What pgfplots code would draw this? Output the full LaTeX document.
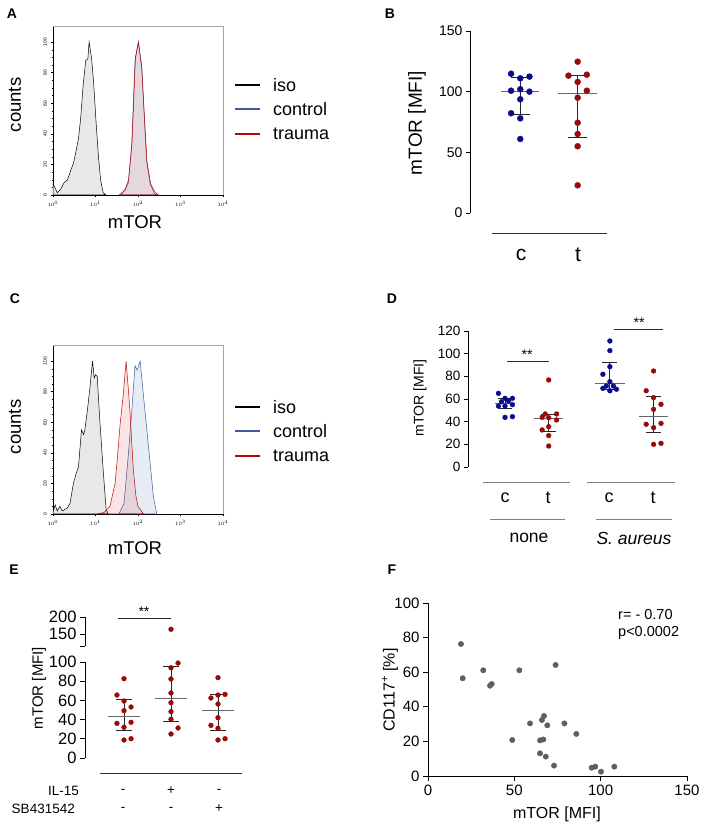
\documentclass[border=0pt]{standalone}
\usepackage{fontspec}
\setmainfont{Liberation Sans}
\usepackage{pgfplots}
\pgfplotsset{compat=1.18}

\definecolor{dotblue}{HTML}{0B0B8E}
\definecolor{dotred}{HTML}{9A0A0A}
\definecolor{lnblue}{HTML}{3B5B9B}
\definecolor{lnred}{HTML}{C40000}
\definecolor{dotgray}{HTML}{5E5E5E}
\definecolor{grp}{HTML}{808080}
\definecolor{fgray}{HTML}{E8E8E8}

\newcommand\fs[1]{\fontsize{#1}{#1}\selectfont}

% median line plus whiskers: x, median, lower, upper, half width median, half width cap
\newcommand\summ[6]{%
  \pgfmathsetmacro\xa{#1-#5}\pgfmathsetmacro\xb{#1+#5}%
  \pgfmathsetmacro\xc{#1-#6}\pgfmathsetmacro\xd{#1+#6}%
  \edef\next{%
    \noexpand\addplot[errline] coordinates {(#1,#3) (#1,#4)};
    \noexpand\addplot[errline] coordinates {(\xc,#3) (\xd,#3)};
    \noexpand\addplot[errline] coordinates {(\xc,#4) (\xd,#4)};
    \noexpand\addplot[medline] coordinates {(\xa,#2) (\xb,#2)};}%
  \next}

\pgfplotsset{
  every axis/.append style={scale only axis, anchor=south west, clip=false,
    /pgf/number format/assume math mode=true},
  hist/.style={width=170pt, height=169pt, xmin=0, xmax=4, ymin=0, ymax=110.5,
    axis x line*=bottom, axis y line*=left, tick align=outside,
    axis line style={line width=0.6pt},
    xtick={0,1,2,3,4},
    xticklabels={$10^{0}$,$10^{1}$,$10^{2}$,$10^{3}$,$10^{4}$},
    minor xtick={0.301,0.477,0.602,0.699,0.778,0.845,0.903,0.954,
      1.301,1.477,1.602,1.699,1.778,1.845,1.903,1.954,
      2.301,2.477,2.602,2.699,2.778,2.845,2.903,2.954,
      3.301,3.477,3.602,3.699,3.778,3.845,3.903,3.954},
    ytick={0,20,...,100}, minor y tick num=3,
    major tick length=2.5pt, minor tick length=1.2pt,
    tick style={line width=0.4pt, black},
    yticklabel style={rotate=90, anchor=south, font=\fs{5}},
    xticklabel style={font=\fs{5.5}}},
  dotax/.style={axis x line=none, axis y line*=left, tick align=outside,
    major tick length=4pt, tick style={black, line width=0.6pt},
    axis line style={line width=0.6pt}},
  medline/.style={black!60, line width=0.9pt},
  errline/.style={black!85, line width=0.9pt},
}

\begin{document}
\begin{tikzpicture}
\path[use as bounding box] (0pt,0pt) rectangle (703pt,828pt);

% ---------------- A ----------------
\begin{axis}[hist, at={(53pt,633pt)}]
\addplot[draw=black, fill=fgray, line width=0.5pt] coordinates {
(0,7.6)(0.1,1.5)(0.18,3.7)(0.26,8)(0.34,9.8)(0.42,16.3)(0.48,20.7)(0.54,28.3)
(0.6,37)(0.65,50)(0.71,72)(0.77,88)(0.82,89)(0.85,100)(0.91,89)(0.96,72)
(1.01,49)(1.07,25)(1.12,9.8)(1.18,1.5)(1.25,0)} \closedcycle;
\addplot[draw=lnblue, fill=lnblue!12, line width=0.5pt] coordinates {
(1.55,0)(1.69,3)(1.77,7.6)(1.85,31.6)(1.93,88)(2.01,100)(2.09,84)(2.14,55)
(2.2,23)(2.28,8)(2.38,1)(2.45,0)} \closedcycle;
\addplot[draw=lnred, fill=lnred, fill opacity=0.08, line width=0.5pt] coordinates {
(1.6,0)(1.7,4)(1.78,10)(1.86,35)(1.94,90)(2.01,100)(2.09,82)(2.15,52)
(2.21,22)(2.3,7)(2.4,2)(2.48,0)} \closedcycle;
\draw[gray!70, line width=0.6pt] (rel axis cs:0,1) -- (rel axis cs:1,1) -- (rel axis cs:1,0);
\end{axis}

% ---------------- C ----------------
\begin{axis}[hist, at={(53pt,314pt)}]
\addplot[draw=black, fill=fgray, line width=0.5pt] coordinates {
(0,1)(0.05,6)(0.1,2)(0.16,5)(0.22,2)(0.28,3)(0.34,4)(0.4,7)(0.48,20)(0.54,26)
(0.6,31)(0.67,55)(0.72,52)(0.75,55)(0.81,68)(0.87,83)(0.93,100)(0.97,89)
(1.0,91)(1.04,90)(1.1,62)(1.18,29)(1.25,3)(1.3,0)} \closedcycle;
\addplot[draw=lnblue, fill=lnblue!12, line width=0.5pt] coordinates {
(1.55,0)(1.67,7)(1.72,22)(1.77,38)(1.85,66)(1.93,97)(1.98,94)(2.05,100)
(2.13,77)(2.24,46)(2.36,12)(2.44,0)} \closedcycle;
\addplot[draw=lnred, fill=lnred, fill opacity=0.1, line width=0.5pt] coordinates {
(1.05,0)(1.2,1)(1.34,5)(1.46,20)(1.52,38)(1.58,59)(1.65,77)(1.72,100)
(1.8,72)(1.89,29)(1.95,12)(2.0,5)(2.13,0)} \closedcycle;
\draw[gray!70, line width=0.6pt] (rel axis cs:0,1) -- (rel axis cs:1,1) -- (rel axis cs:1,0);
\end{axis}

% ---------------- B ----------------
\begin{axis}[dotax, at={(470pt,615pt)}, width=142.1pt, height=182pt,
  xmin=0.124, xmax=2.6, ymin=0, ymax=150, ytick={0,50,100,150},
  yticklabel style={font=\fs{14}}]
\addplot[only marks, mark=*, mark size=3pt, dotblue] coordinates {
(0.84,114.8)(1,111)(1.16,112.4)(0.84,100.8)(1,102)(1.16,100)(1,93.7)
(0.84,82.2)(1,78)(1,61)};
\addplot[only marks, mark=*, mark size=3pt, dotred] coordinates {
(2,124.7)(1.84,113.2)(2.16,114)(2,108)(2.16,100.8)(2,95)(2,74.4)
(2,65.1)(2,55)(2,22.8)};
\summ{1}{100.5}{81.3}{111.3}{0.33}{0.17}
\summ{2}{98.3}{62.6}{113.5}{0.34}{0.17}
\end{axis}

% ---------------- D ----------------
\begin{axis}[dotax, at={(468pt,361pt)}, width=211.8pt, height=136pt,
  xmin=0.153, xmax=5, ymin=0, ymax=120, ytick={0,20,...,120},
  yticklabel style={font=\fs{13.5}}]
\addplot[only marks, mark=*, mark size=2.4pt, dotblue] coordinates {
(0.85,65)(1,60.6)(1.17,60.6)(0.92,57.6)(1.08,58.2)(0.85,53.8)(1,53.8)
(1.17,55)(1,43.8)(1.17,44.4)
(3.4,111.2)(3.4,102.7)(3.4,88.5)(3.24,81.8)(3.4,75.3)(3.32,71.5)
(3.48,71.5)(3.24,69.4)(3.4,67.3)(3.55,68.6)};
\addplot[only marks, mark=*, mark size=2.4pt, dotred] coordinates {
(2,76.8)(1.92,46.8)(2.18,46.8)(1.85,43.8)(2,43.5)(2.18,41.5)(2,35.6)
(1.85,32.7)(2,27.7)(2,18.5)
(4.4,84.7)(4.23,67.3)(4.4,61.2)(4.57,55.3)(4.4,50.9)(4.23,37.7)
(4.57,38.5)(4.4,34.7)(4.4,20)(4.57,20.9)};
\summ{1}{56.2}{51.5}{60.6}{0.23}{0.16}
\summ{2}{42.4}{31.2}{46.8}{0.33}{0.17}
\summ{3.4}{73.8}{68}{92.4}{0.34}{0.17}
\summ{4.4}{44.7}{30.6}{62.6}{0.33}{0.17}
\end{axis}

% ---------------- E ----------------
\begin{axis}[dotax, at={(85pt,70pt)}, width=161.2pt, height=96pt,
  xmin=0.17, xmax=3.6, ymin=0, ymax=100, ytick={0,20,...,100},
  major tick length=5pt, yticklabel style={font=\fs{16.5}}]
\addplot[only marks, mark=*, mark size=2.4pt, dotred] coordinates {
(1,82.6)(0.85,65.6)(1,59.4)(1.15,53.1)(1,49.3)(0.85,36.1)(1.15,37.2)
(1,32)(1,18.75)(1.15,20.1)
(2.15,98.9)(2,94)(2,82.3)(2,67.7)(2,57.6)(2,48.3)(2,40.3)(2.15,31.25)(2,25)
(3,83.7)(2.85,62.5)(3,65.6)(3.15,66.3)(3,56.25)(3,42)(2.85,34)(3,30.9)
(3,18.75)(3.15,20.1)};
\summ{1}{43}{29.2}{61.1}{0.34}{0.17}
\summ{2}{62.5}{38.2}{95.1}{0.34}{0.17}
\summ{3}{49.3}{28.5}{66}{0.34}{0.17}
\end{axis}
\begin{axis}[dotax, at={(85pt,182pt)}, width=161.2pt, height=29pt,
  xmin=0.17, xmax=3.6, ymin=115, ymax=200, ytick={150,200},
  extra y ticks={115}, extra y tick labels={},
  major tick length=5pt, yticklabel style={font=\fs{16.5}}]
\addplot[only marks, mark=*, mark size=2.4pt, dotred] coordinates {(2,164)};
\end{axis}

% ---------------- F ----------------
\begin{axis}[at={(428pt,52pt)}, width=259pt, height=173pt,
  xmin=0, xmax=150, ymin=0, ymax=100,
  axis x line*=bottom, axis y line*=left, tick align=outside,
  major tick length=5pt, tick style={black, line width=0.6pt},
  axis line style={line width=0.6pt},
  xtick={0,50,100,150}, ytick={0,20,...,100},
  ticklabel style={font=\fs{15}}]
\addplot[only marks, mark=*, mark size=2.7pt, dotgray] coordinates {
(19.1,76.3)(20.1,56.5)(32.0,61.1)(35.9,52.2)(36.9,53.2)(52.9,61.1)
(73.9,64.2)(48.8,20.8)(59.1,30.4)(64.9,20.6)(66.8,21.1)(67.2,34.7)
(66.0,32.4)(69.1,29.3)(79.0,30.4)(85.9,24.3)(64.9,13.1)(68.2,11.2)
(73.0,6)(94.8,4.8)(96.9,5.4)(100.2,2.5)(107.9,5.4)};
\end{axis}

% ---------------- texts and decorations ----------------
\begin{scope}[every node/.style={inner sep=0pt}]
% panel letters
\node[font=\fs{14}\bfseries] at (12pt,814pt) {A};
\node[font=\fs{14}\bfseries] at (390pt,814pt) {B};
\node[font=\fs{14}\bfseries] at (15pt,529pt) {C};
\node[font=\fs{14}\bfseries] at (392pt,529pt) {D};
\node[font=\fs{14}\bfseries] at (14pt,258pt) {E};
\node[font=\fs{14}\bfseries] at (392pt,258pt) {F};

% A and C labels and legends
\node[font=\fs{18.5}, rotate=90] at (15pt,723pt) {counts};
\node[font=\fs{18.5}] at (135pt,606pt) {mTOR};
\node[font=\fs{18.5}, rotate=90] at (15pt,401pt) {counts};
\node[font=\fs{18.5}] at (135pt,280pt) {mTOR};
\foreach \yy in {743, 421} {
  \draw[black, line width=1.3pt] (235pt,\yy pt) -- (260pt,\yy pt);
  \node[font=\fs{18}, anchor=west] at (273pt,\yy pt) {iso};
  \draw[lnblue, line width=1.3pt] (235pt,\yy pt-24pt) -- (260pt,\yy pt-24pt);
  \node[font=\fs{18}, anchor=west] at (273pt,\yy pt-24pt) {control};
  \draw[lnred, line width=1.3pt] (235pt,\yy pt-49pt) -- (260pt,\yy pt-49pt);
  \node[font=\fs{18}, anchor=west] at (273pt,\yy pt-49pt) {trauma};
}

% B
\node[font=\fs{19}, rotate=90] at (417pt,705pt) {mTOR [MFI]};
\draw[black!80, line width=0.8pt] (492pt,595pt) -- (607pt,595pt);
\node[font=\fs{21}] at (521pt,573pt) {c};
\node[font=\fs{21}] at (578pt,573pt) {t};

% D
\node[font=\fs{14}, rotate=90] at (420pt,430pt) {mTOR [MFI]};
\draw[grp, line width=0.9pt] (483pt,346pt) -- (570pt,346pt);
\draw[grp, line width=0.9pt] (587pt,346pt) -- (675pt,346pt);
\draw[grp, line width=0.9pt] (490pt,309pt) -- (565pt,309pt);
\draw[grp, line width=0.9pt] (596pt,309pt) -- (672pt,309pt);
\node[font=\fs{18}] at (505pt,330pt) {c};
\node[font=\fs{18}] at (548pt,330pt) {t};
\node[font=\fs{18}] at (609pt,330pt) {c};
\node[font=\fs{18}] at (653pt,330pt) {t};
\node[font=\fs{17.5}] at (529pt,290pt) {none};
\node[font=\fs{17.5}\itshape] at (634pt,290pt) {S. aureus};
\draw[black!85, line width=0.8pt] (507pt,467pt) -- (549pt,467pt);
\node[font=\fs{14}, anchor=base] at (527pt,468pt) {**};
\draw[black!85, line width=0.8pt] (614pt,499pt) -- (663pt,499pt);
\node[font=\fs{14}, anchor=base] at (639pt,500pt) {**};

% E
\node[font=\fs{15}, rotate=90] at (39pt,140pt) {mTOR [MFI]};
\draw[black!80, line width=0.8pt] (100pt,55pt) -- (242pt,55pt);
\draw[black!85, line width=0.8pt] (118pt,210pt) -- (171pt,210pt);
\node[font=\fs{14}, anchor=base] at (144pt,211pt) {**};
\node[font=\fs{13.5}, anchor=east] at (79pt,37pt) {IL-15};
\node[font=\fs{13.5}, anchor=east] at (75pt,19pt) {SB431542};
\node[font=\fs{13.5}] at (123pt,37pt) {-};
\node[font=\fs{13.5}] at (171pt,37pt) {+};
\node[font=\fs{13.5}] at (219pt,37pt) {-};
\node[font=\fs{13.5}] at (123pt,19pt) {-};
\node[font=\fs{13.5}] at (171pt,19pt) {-};
\node[font=\fs{13.5}] at (219pt,19pt) {+};

% F
\node[font=\fs{16}] at (557pt,14pt) {mTOR [MFI]};
\node[font=\fs{16}, rotate=90] at (390pt,138pt) {CD117\textsuperscript{+} [\%]};
\node[font=\fs{14.5}, anchor=west] at (618pt,213pt) {r= - 0.70};
\node[font=\fs{14.5}, anchor=west] at (618pt,195pt) {p<0.0002};
\end{scope}
\end{tikzpicture}
\end{document}
